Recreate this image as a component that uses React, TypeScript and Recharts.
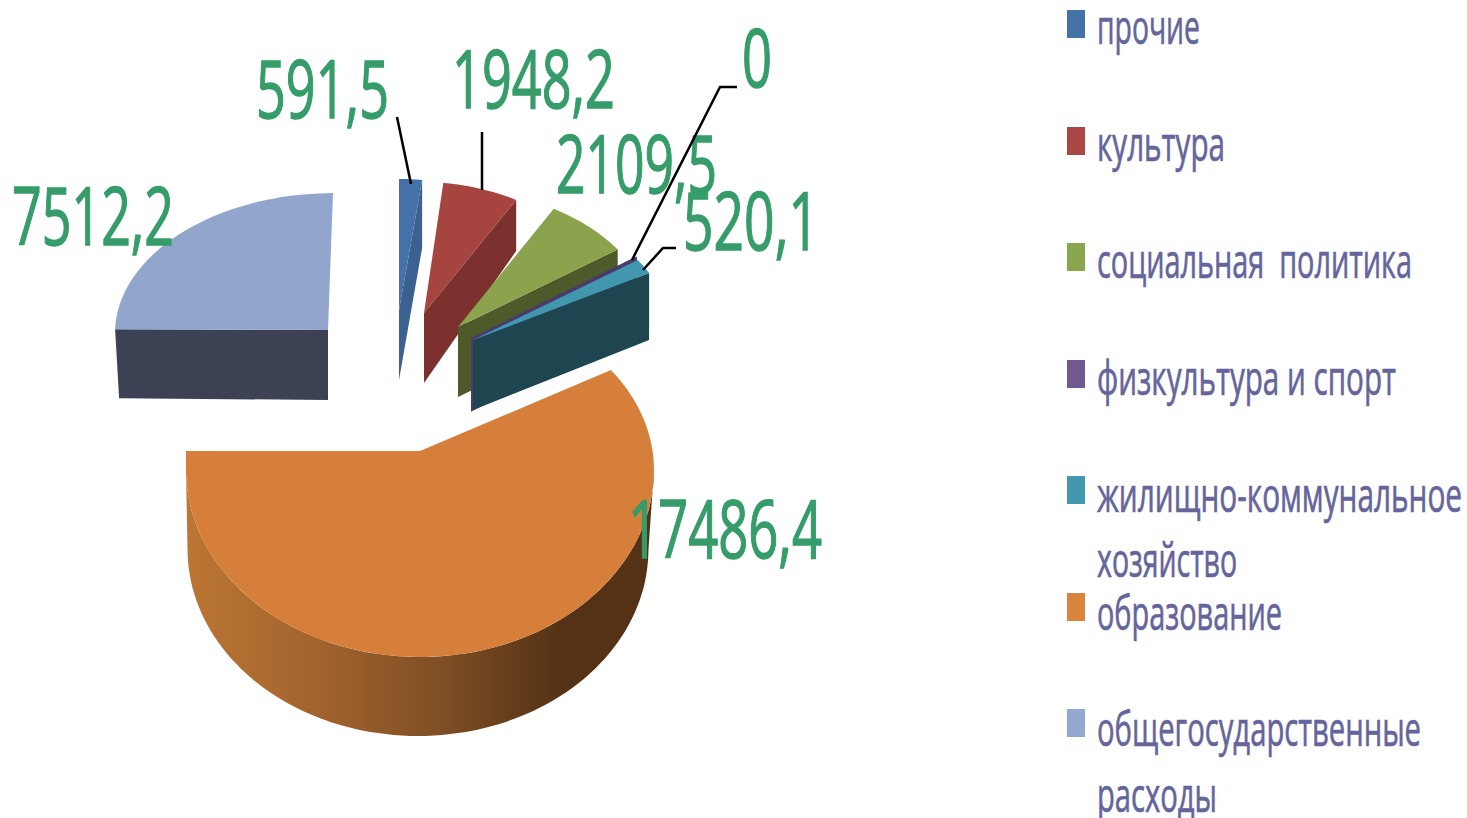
import { PieChart, Pie, Legend } from 'recharts'

const categories = [
  'прочие',
  'культура',
  'социальная  политика',
  'физкультура и спорт',
  'жилищно-коммунальное хозяйство',
  'образование',
  'общегосударственные расходы',
]
const values = [591.5, 1948.2, 2109.5, 0, 520.1, 17486.4, 7512.2]

const faceColors = ['#4472A8', '#A64440', '#8AA34C', '#5B4A80', '#4197AE', '#D67F3A', '#92A6CD']
const wallColors = ['#3A6190', '#7C312E', '#4E5A2A', '#4B3A6E', '#1E4550', 'url(#orangeWall)', '#3C4253']
const legendColors = ['#4472A8', '#AA4643', '#89A54E', '#71588F', '#4198AF', '#DB843D', '#93A9CF']

const chartData = categories.map((name, i) => ({ name, value: values[i], fill: faceColors[i] }))

const PIE_CX = 420
const PIE_CY = 451
const PIE_R = 234
const FONT = '"Open Sans", sans-serif'

// exploded slices: apex offset from pie centre, radii as share of outerRadius, wall heights
const sliceLook = [
  { dx: -21, dy: -141, sx: 0.803, top: 0.56, bottom: 0.56, apexDepth: 70, edgeDepth: 68 },
  { dx: 4, dy: -138, sx: 0.81, top: 0.56, bottom: 0.56, skew: -4, apexDepth: 70, edgeDepth: 51 },
  { dx: 38, dy: -124, sx: 0.84, top: 0.585, bottom: 0.585, skew: -4, apexDepth: 70, edgeDepth: 70 },
  { dx: 52, dy: -112, sx: 0.85, top: 0.61, bottom: 0.61, apexDepth: 71, edgeDepth: 68 },
  { dx: 53, dy: -111, sx: 0.855, top: 0.603, bottom: 0.603, apexDepth: 70, edgeDepth: 67 },
  { dx: 0, dy: 0, sx: 1, top: 0.739, bottom: 0.799, round: true, centerDy: 19, startShift: -7, depth: 79, shrink: 0.985, wallDx: -2 },
  { dx: -92, dy: -121, sx: 0.91, top: 0.585, bottom: 0.585, skew: 5, frontWall: true, apexDepth: 70, edgeDepth: 69, edgeDx: 4 },
]

// value label text box and leader line for each slice
const labelLook = [
  { x: 256, y: 118, w: 133, line: '397,117 411,184' },
  { x: 452, y: 108, w: 163, line: '482,132 482,190' },
  { x: 556, y: 193, w: 161 },
  { x: 742, y: 87, w: 30, line: '737,87 720,87 632,260' },
  { x: 683, y: 250, w: 136, line: '676,248 663,248 643,270' },
  { x: 628, y: 558, w: 194 },
  { x: 12, y: 245, w: 162 },
]

const legendRows = [
  { box: 10, lines: [{ text: 'прочие', y: 44, w: 103 }] },
  { box: 127, lines: [{ text: 'культура', y: 161, w: 128 }] },
  { box: 243, lines: [{ text: 'социальная  политика', y: 278, w: 315 }] },
  { box: 360, lines: [{ text: 'физкультура и спорт', y: 395, w: 299 }] },
  {
    box: 476,
    lines: [
      { text: 'жилищно-коммунальное', y: 512, w: 365 },
      { text: 'хозяйство', y: 577, w: 140 },
    ],
  },
  { box: 593, lines: [{ text: 'образование', y: 630, w: 185 }] },
  {
    box: 709,
    lines: [
      { text: 'общегосударственные', y: 746, w: 324 },
      { text: 'расходы', y: 812, w: 120 },
    ],
  },
]

const toPath = (pts: number[][]) => 'M' + pts.map(p => `${p[0].toFixed(1)},${p[1].toFixed(1)}`).join('L') + 'Z'

function SliceShape(props: any) {
  const i = categories.indexOf(props.name ?? props.payload?.name)
  const look: any = sliceLook[i]
  const { cx, cy, outerRadius, startAngle, endAngle } = props
  const apex = [cx + look.dx, cy + look.dy]
  const centerY = apex[1] + (look.centerDy || 0)
  const rx = outerRadius * look.sx
  const a0 = 90 - startAngle + (look.startShift || 0)
  const a1 = 90 - endAngle

  const pointAt = (deg: number, drop = 0, scale = 1, shift = 0) => {
    const rad = (deg * Math.PI) / 180
    const c = Math.cos(rad)
    const ry = outerRadius * (c > 0 ? look.top : look.bottom)
    return [
      apex[0] + shift + rx * scale * Math.sin(rad) + (look.skew || 0) * c,
      centerY - ry * c + drop,
    ]
  }
  const sweep = (from: number, to: number, drop = 0, scale = 1, shift = 0) => {
    const n = Math.max(2, Math.ceil((to - from) / 2))
    const out: number[][] = []
    for (let k = 0; k <= n; k++) out.push(pointAt(from + ((to - from) * k) / n, drop, scale, shift))
    return out
  }

  const face = [apex, ...sweep(a0, a1)]
  let wall: number[][]
  if (look.round) {
    // curved outer wall, only the part turned towards the viewer
    face.push([pointAt(a1)[0], apex[1]])
    wall = [...sweep(90, 270), ...sweep(90, 270, look.depth, look.shrink, look.wallDx).reverse()]
  } else {
    const edge = look.frontWall ? a0 : a1
    const top = pointAt(edge)
    wall = [
      apex,
      top,
      [top[0] + (look.edgeDx || 0), top[1] + look.edgeDepth],
      [apex[0], apex[1] + look.apexDepth],
    ]
  }
  const thin = values[i] === 0

  return (
    <g>
      <path d={toPath(wall)} fill={wallColors[i]} stroke={thin ? wallColors[i] : 'none'} strokeWidth={thin ? 2 : 0} />
      <path d={toPath(face)} fill={faceColors[i]} stroke={thin ? wallColors[i] : 'none'} strokeWidth={thin ? 2.5 : 0} />
    </g>
  )
}

function ValueLabel(props: any) {
  const i = categories.indexOf(props.name ?? props.payload?.name)
  const look = labelLook[i]
  return (
    <g>
      {look.line && <polyline points={look.line} fill="none" stroke="#000" strokeWidth={2.5} />}
      <text
        x={look.x}
        y={look.y}
        fontFamily={FONT}
        fontSize={81}
        fill="#359C6A"
        stroke="#359C6A"
        strokeWidth={1.4}
        textLength={look.w}
        lengthAdjust="spacingAndGlyphs"
      >
        {String(values[i]).replace('.', ',')}
      </text>
    </g>
  )
}

function LegendBlock() {
  return (
    <svg width={1467} height={818} style={{ display: 'block' }}>
      {legendRows.map((row, i) => (
        <g key={categories[i]}>
          <rect x={1067} y={row.box} width={18} height={28} fill={legendColors[i]} />
          {row.lines.map(l => (
            <text
              key={l.text}
              x={1097}
              y={l.y}
              fontFamily={FONT}
              fontSize={48}
              fill="#65659B"
              stroke="#65659B"
              strokeWidth={0.7}
              textLength={l.w}
              lengthAdjust="spacingAndGlyphs"
              xmlSpace="preserve"
            >
              {l.text}
            </text>
          ))}
        </g>
      ))}
    </svg>
  )
}

export default function App() {
  return (
    <div style={{ position: 'absolute', left: 0, top: 0, width: 1467, height: 818, background: '#fff', overflow: 'hidden' }}>
      <PieChart width={1467} height={818} margin={{ top: 0, right: 0, bottom: 0, left: 0 }}>
        <defs>
          <linearGradient id="orangeWall" x1="0" y1="0" x2="1" y2="0">
            <stop offset="0" stopColor="#BC7634" />
            <stop offset="0.3" stopColor="#A0622C" />
            <stop offset="0.55" stopColor="#7E4E24" />
            <stop offset="0.8" stopColor="#553216" />
            <stop offset="1" stopColor="#553216" />
          </linearGradient>
        </defs>
        <Legend
          content={() => <LegendBlock />}
          wrapperStyle={{ position: 'absolute', left: 0, top: 0, width: 1467, height: 818, pointerEvents: 'none' }}
        />
        <Pie
          data={chartData}
          dataKey="value"
          nameKey="name"
          cx={PIE_CX}
          cy={PIE_CY}
          innerRadius={0}
          outerRadius={PIE_R}
          startAngle={90}
          endAngle={-270}
          stroke="none"
          shape={SliceShape}
          label={ValueLabel}
          labelLine={false}
          isAnimationActive={false}
        />
      </PieChart>
    </div>
  )
}
